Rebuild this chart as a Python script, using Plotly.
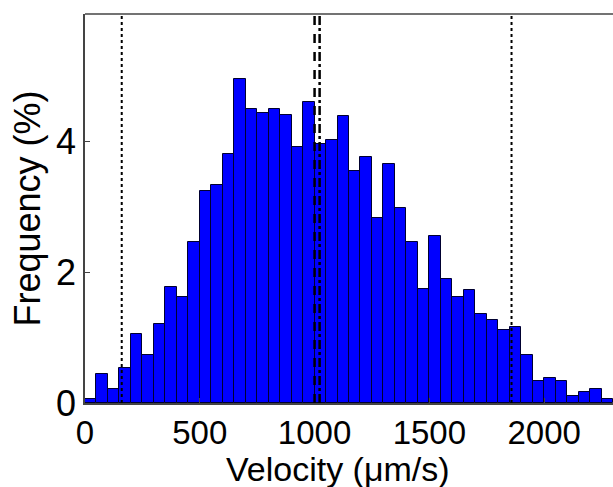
import plotly.graph_objects as go

# Histogram data (bin width 50 um/s), frequency in %
bin_width = 50
bin_starts = list(range(0, 2300, 50))
freq = [0.06, 0.44, 0.22, 0.53, 1.05, 0.73, 1.21, 1.78, 1.62, 2.46,
        3.25, 3.34, 3.81, 4.96, 4.49, 4.43, 4.49, 4.40, 3.92, 4.61,
        3.96, 4.02, 4.39, 3.55, 3.76, 2.83, 3.66, 2.98, 2.46, 1.74,
        2.56, 1.89, 1.62, 1.73, 1.36, 1.27, 1.11, 1.16, 0.73, 0.33,
        0.38, 0.33, 0.11, 0.17, 0.22, 0.06]

# Reference lines (percentiles / mean / median)
dotted_lines = [160, 1858]
center_dash = 1000
center_dashdot = 1022

x_ticks = [0, 500, 1000, 1500, 2000]
y_ticks = [0, 2, 4]
x_range = [0, 2300]
y_range = [0, 5.95]

centers = [s + bin_width / 2 for s in bin_starts]

font_family = "Arial, Liberation Sans, sans-serif"

fig = go.Figure()
fig.add_trace(go.Bar(
    x=centers, y=freq, width=[bin_width] * len(freq),
    marker=dict(color="#0000ff", line=dict(color="#000030", width=1)),
    showlegend=False,
))

for v in dotted_lines:
    fig.add_vline(x=v, line=dict(color="black", width=2, dash="dot"))
fig.add_vline(x=center_dash, line=dict(color="black", width=2.5, dash="dash"))
fig.add_vline(x=center_dashdot, line=dict(color="black", width=2.5, dash="dashdot"))

# top border of the box
fig.add_shape(type="line", xref="paper", yref="paper", x0=0, x1=1, y0=1, y1=1,
              line=dict(color="#444444", width=1.5))

# x-axis title placed as annotation at the bottom
fig.add_annotation(text="Velocity (μm/s)", xref="paper", yref="paper",
                   x=0.48, y=-0.222, xanchor="center", yanchor="bottom",
                   showarrow=False, borderpad=0,
                   font=dict(size=34, family=font_family, color="black"))

fig.update_layout(
    width=613, height=487,
    margin=dict(l=85, r=0, t=14, b=84),
    paper_bgcolor="white", plot_bgcolor="white",
    bargap=0,
    font=dict(family=font_family, color="black"),
    xaxis=dict(
        range=x_range, tickvals=x_ticks, ticks="inside", ticklen=5,
        showline=True, linecolor="#444444", linewidth=1.5,
        showgrid=False, zeroline=False,
        tickfont=dict(size=33, family=font_family),
    ),
    yaxis=dict(
        range=y_range, tickvals=y_ticks, ticks="inside", ticklen=5,
        showline=True, linecolor="#444444", linewidth=1.5,
        showgrid=False, zeroline=False,
        tickfont=dict(size=36, family=font_family),
        title=dict(text="Frequency (%)", font=dict(size=36, family=font_family), standoff=4),
    ),
)

fig.write_html("out.html")
